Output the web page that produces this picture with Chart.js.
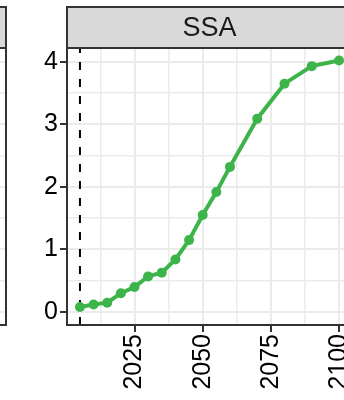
<!DOCTYPE html>
<html>
<head>
<meta charset="utf-8">
<script src="https://cdn.jsdelivr.net/npm/chart.js@4.4.1/dist/chart.umd.min.js"></script>
<style>
  html, body { margin: 0; padding: 0; background: #fff; overflow: hidden; }
  body { width: 344px; height: 400px; position: relative; }
  canvas { position: absolute; top: 0; }
  #main { left: 0; }
  #prev { left: -346px; }
</style>
</head>
<body>
<canvas id="prev" width="360" height="400"></canvas>
<canvas id="main" width="360" height="400"></canvas>
<script>
// SSA series
const years = [2005, 2010, 2015, 2020, 2025, 2030, 2035, 2040, 2045, 2050, 2055, 2060, 2070, 2080, 2090, 2100];
const values = [0.08, 0.12, 0.15, 0.30, 0.40, 0.57, 0.63, 0.84, 1.15, 1.55, 1.92, 2.32, 3.09, 3.65, 3.93, 4.02];
const baseYear = 2005;

// axis breaks (major + minor grid)
const xBreaks = [2012.5, 2025, 2037.5, 2050, 2062.5, 2075, 2087.5, 2100];
const xLabels = [2025, 2050, 2075, 2100];
const yBreaks = [0, 0.5, 1, 1.5, 2, 2.5, 3, 3.5, 4];
const yLabels = [0, 1, 2, 3, 4];

const green = "#3cb44a";

const facetPlugin = {
  id: "facet",
  beforeDatasetsDraw(chart, args, opts) {
    if (opts.vline == null) return;
    const { ctx, chartArea: a, scales: { x } } = chart;
    const px = x.getPixelForValue(opts.vline);
    ctx.save();
    ctx.strokeStyle = "#000";
    ctx.lineWidth = 2;
    ctx.setLineDash([8, 9]);
    ctx.beginPath();
    ctx.moveTo(px, a.bottom);
    ctx.lineTo(px, a.top);
    ctx.stroke();
    ctx.restore();
  },
  afterDraw(chart, args, opts) {
    const { ctx, chartArea: a } = chart;
    ctx.save();
    ctx.strokeStyle = "#333333";
    ctx.lineWidth = 2;
    ctx.strokeRect(a.left, a.top, a.right - a.left, a.bottom - a.top);
    // strip
    ctx.fillStyle = "#d9d9d9";
    ctx.fillRect(a.left, 7, a.right - a.left, a.top - 7);
    ctx.strokeRect(a.left, 7, a.right - a.left, a.top - 7);
    ctx.fillStyle = "#1a1a1a";
    ctx.font = "27px 'Liberation Sans', Arial, sans-serif";
    ctx.textAlign = "center";
    ctx.textBaseline = "middle";
    ctx.fillText(opts.label || "", (a.left + a.right) / 2, (7 + a.top) / 2 + 1);
    ctx.restore();
  }
};

function panelOptions(label, vline) {
  const font = { family: "'Liberation Sans', Arial, sans-serif", size: 25 };
  return {
    responsive: false,
    animation: false,
    devicePixelRatio: 1,
    layout: { padding: { top: 48, right: 8, left: 0, bottom: 0 } },
    plugins: {
      legend: { display: false },
      tooltip: { enabled: false },
      facet: { label: label, vline: vline },
    },
    scales: {
      x: {
        type: "linear",
        min: 2000.25,
        max: 2104.75,
        border: { display: false },
        afterBuildTicks: (s) => { s.ticks = xBreaks.map((v) => ({ value: v })); },
        afterFit: (s) => {
          s.height = 75;
          s.paddingLeft = 0;
          s.paddingRight = 0;
        },
        grid: {
          color: "#ebebeb",
          lineWidth: (c) => (xLabels.includes(c.tick && c.tick.value) ? 2 : 1.5),
          tickLength: 7,
          tickWidth: 2,
          tickColor: (c) => (xLabels.includes(c.tick && c.tick.value) ? "#333333" : "rgba(0,0,0,0)"),
        },
        ticks: {
          autoSkip: false,
          minRotation: 90,
          maxRotation: 90,
          padding: 2,
          color: "#000",
          font: font,
          callback: (v) => (xLabels.includes(v) ? String(v) : ""),
        },
      },
      y: {
        type: "linear",
        min: -0.207,
        max: 4.22,
        border: { display: false },
        afterBuildTicks: (s) => { s.ticks = yBreaks.map((v) => ({ value: v })); },
        afterFit: (s) => {
          s.width = 67;
          s.paddingTop = 0;
          s.paddingBottom = 0;
        },
        grid: {
          color: "#ebebeb",
          lineWidth: (c) => (yLabels.includes(c.tick && c.tick.value) ? 2 : 1.5),
          tickLength: 7,
          tickWidth: 2,
          tickColor: (c) => (yLabels.includes(c.tick && c.tick.value) ? "#333333" : "rgba(0,0,0,0)"),
        },
        ticks: {
          autoSkip: false,
          padding: 2,
          color: "#000",
          font: font,
          callback: (v) => (yLabels.includes(v) ? String(v) : ""),
        },
      },
    },
  };
}

// neighbouring facet, only its right edge shows
new Chart(document.getElementById("prev"), {
  type: "line",
  data: { datasets: [] },
  options: panelOptions("", null),
  plugins: [facetPlugin],
});

new Chart(document.getElementById("main"), {
  type: "line",
  data: {
    datasets: [
      {
        label: "SSA",
        data: years.map((yr, i) => ({ x: yr, y: values[i] })),
        borderColor: green,
        backgroundColor: green,
        borderWidth: 4,
        pointRadius: 5,
        pointBorderWidth: 0,
        tension: 0,
      },
    ],
  },
  options: panelOptions("SSA", baseYear),
  plugins: [facetPlugin],
});
</script>
</body>
</html>
